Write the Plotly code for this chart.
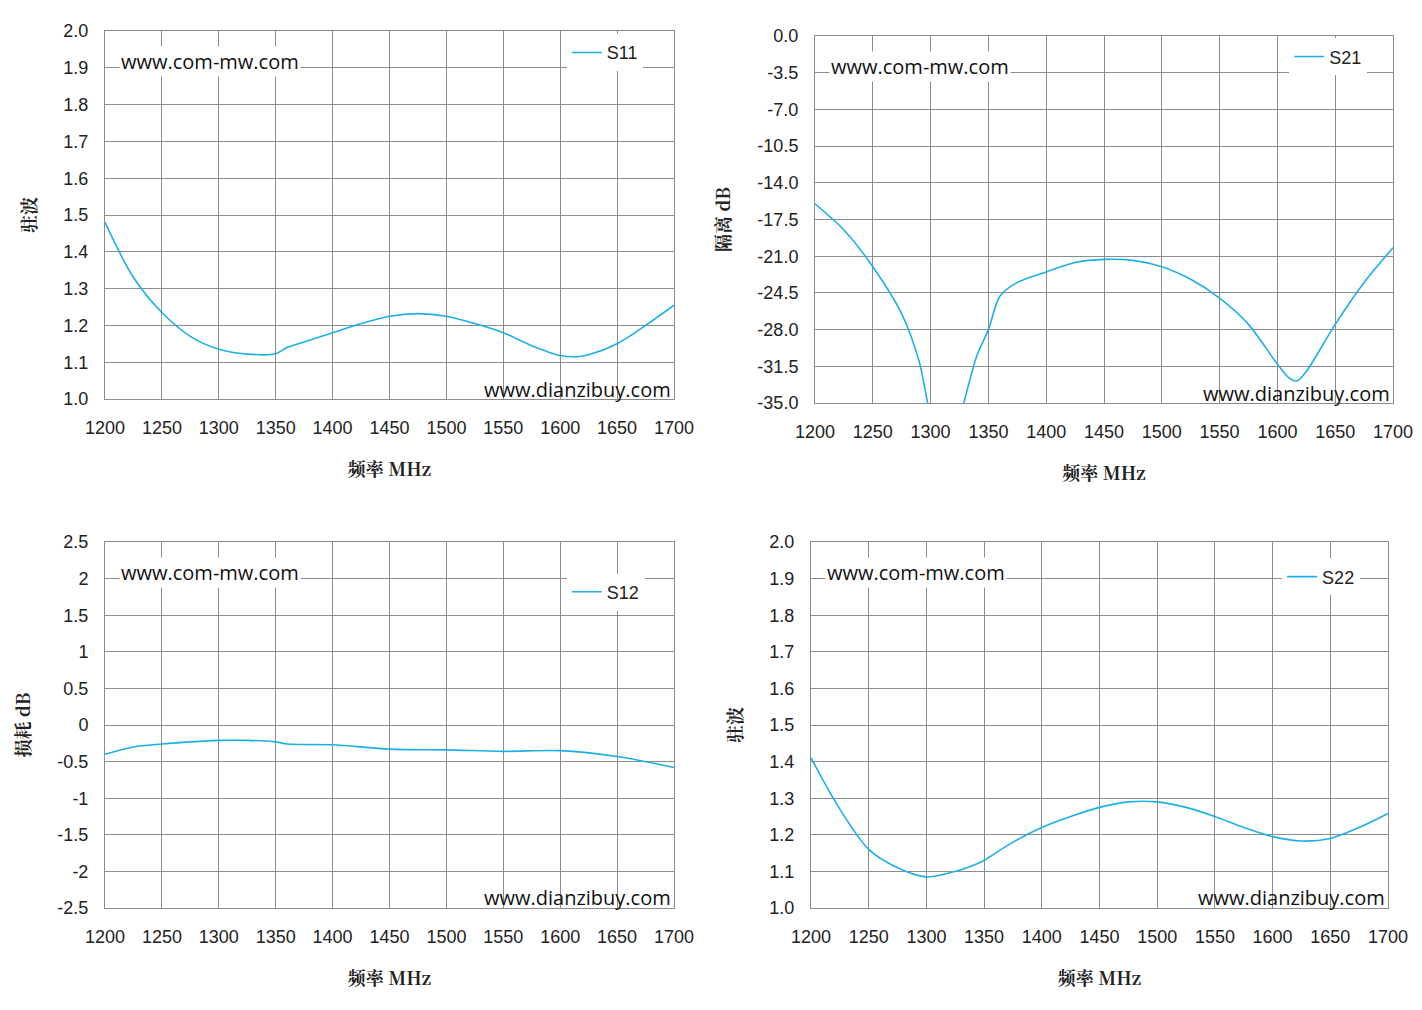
import plotly.graph_objects as go

BLUE = "#1cb0e8"
GRID = "#8c8c8c"

s11_f = [1200, 1225, 1250, 1275, 1300, 1325, 1350, 1360, 1375, 1400, 1425, 1450, 1475, 1500, 1525, 1550, 1575, 1600, 1615, 1625, 1650, 1675, 1700]
s11_v = [1.48, 1.33, 1.235, 1.17, 1.135, 1.122, 1.123, 1.14, 1.155, 1.18, 1.205, 1.225, 1.232, 1.225, 1.205, 1.18, 1.145, 1.118, 1.115, 1.12, 1.15, 1.2, 1.255]

s21_f = [1200, 1225, 1250, 1275, 1290, 1298, 1312, 1328, 1340, 1350, 1360, 1375, 1400, 1425, 1450, 1475, 1500, 1525, 1550, 1575, 1600, 1610, 1617, 1625, 1650, 1675, 1700]
s21_v = [-16, -18.5, -22, -26.5, -31, -35.3, -42, -35.3, -30.5, -28, -24.8, -23.5, -22.5, -21.6, -21.3, -21.4, -22, -23.2, -25, -27.5, -31.3, -32.6, -32.9, -32, -27.5, -23.5, -20.2]

s12_f = [1200, 1225, 1250, 1275, 1300, 1325, 1350, 1360, 1400, 1450, 1500, 1550, 1600, 1650, 1700]
s12_v = [-0.4, -0.3, -0.26, -0.23, -0.21, -0.21, -0.23, -0.26, -0.27, -0.33, -0.34, -0.36, -0.35, -0.43, -0.58]

s22_f = [1200, 1225, 1250, 1275, 1300, 1325, 1350, 1355, 1375, 1400, 1425, 1450, 1475, 1500, 1525, 1550, 1575, 1600, 1625, 1650, 1675, 1700]
s22_v = [1.41, 1.27, 1.16, 1.11, 1.085, 1.1, 1.13, 1.14, 1.18, 1.22, 1.25, 1.275, 1.29, 1.29, 1.275, 1.25, 1.22, 1.195, 1.183, 1.19, 1.22, 1.258]

vswr_ticks = [1.0 + 0.1 * k for k in range(11)]
iso_ticks = [-3.5 * k for k in range(11)]
loss_ticks = [2.5 - 0.5 * k for k in range(11)]


def lab(vals, fmt):
    return [(fmt % v).replace("-0.0", "0.0") if fmt else ("%g" % round(v, 2)) for v in vals]


def xd(a, b):
    return [(a - 8) / 1422, (b - 8) / 1422]


def yd(top, bot):
    return [1 - (bot - 8) / 1010, 1 - (top - 8) / 1010]


panels = [
    ("S11", s11_f, s11_v, xd(105, 674), yd(31, 399), [1.0, 2.0], vswr_ticks, "%.1f", "驻波", 0.85),
    ("S21", s21_f, s21_v, xd(815, 1393), yd(36, 403), [-35, 0], iso_ticks, "%.1f", "隔离 dB", 0.8),
    ("S12", s12_f, s12_v, xd(105, 674), yd(542, 908), [-2.5, 2.5], loss_ticks, "", "损耗 dB", 0.85),
    ("S22", s22_f, s22_v, xd(811, 1388), yd(542, 908), [1.0, 2.0], vswr_ticks, "%.1f", "驻波", 0.85),
]
legend_pos = [(0.393, 0.974), (0.901, 0.97), (0.393, 0.44), (0.896, 0.455)]

fig = go.Figure()
layout = {}
title_font = dict(family="Noto Serif CJK SC, Noto Sans CJK SC", size=18, color="#222")
for i, (name, f, v, xdom, ydom, yr, tv, fmt, yt, sm) in enumerate(panels):
    n = "" if i == 0 else str(i + 1)
    fig.add_trace(go.Scatter(x=f, y=v, name=name, mode="lines", showlegend=True,
                             line=dict(color=BLUE, width=1.6, shape="spline", smoothing=sm),
                             xaxis="x" + n, yaxis="y" + n, legend="legend" + n))
    ax = dict(showgrid=True, gridcolor=GRID, linecolor=GRID, mirror=True, showline=True, zeroline=False,
              tickfont=dict(family="Liberation Sans", size=18, color="#222"), automargin=False,
              ticks="outside", tickcolor="rgba(0,0,0,0)")
    layout["xaxis" + n] = dict(ax, domain=xdom, range=[1200, 1700], dtick=50, anchor="y" + n, ticklen=12,
                               title=dict(text="<b>频率 MHz</b>", font=title_font, standoff=26))
    layout["yaxis" + n] = dict(ax, domain=ydom, range=yr, tickvals=tv, ticktext=lab(tv, fmt), anchor="x" + n,
                               ticklen=12, title=dict(text="<b>" + yt + "</b>", font=title_font, standoff=22))
    lp = legend_pos[i]
    layout["legend" + n] = dict(x=lp[0], y=lp[1], xanchor="left", yanchor="top", bgcolor="white",
                                font=dict(family="Liberation Sans", size=18, color="#222"))
    fig.add_annotation(text="www.com-mw.com", xref="x" + n + " domain", yref="y" + n + " domain", x=0.025, y=0.96,
                       xanchor="left", yanchor="top", showarrow=False, bgcolor="white",
                       font=dict(family="Open Sans", size=20, color="#111"))
    fig.add_annotation(text="www.dianzibuy.com", xref="x" + n + " domain", yref="y" + n + " domain", x=0.998, y=-0.015,
                       xanchor="right", yanchor="bottom", showarrow=False,
                       font=dict(family="Open Sans", size=20, color="#111"))

fig.update_layout(width=1422, height=1010, margin=dict(l=0, r=0, t=0, b=0), paper_bgcolor="white",
                  plot_bgcolor="white", **layout)
fig.write_html("out.html")
